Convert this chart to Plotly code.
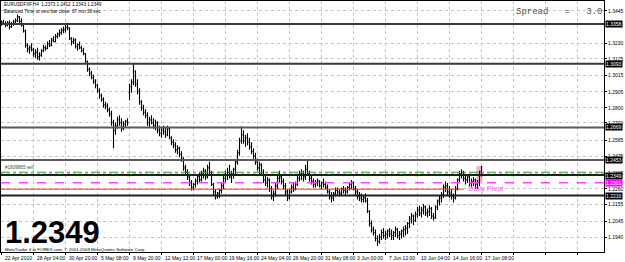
import plotly.graph_objects as go

# ---------------- data (prices in 1/10000) ----------------
bar_open = [13360,13370,13360,13350,13365,13340,13355,13370,13380,13405,13375,13350,13310,13215,13190,13200,13185,13160,13170,13140,
13150,13180,13200,13195,13225,13215,13250,13240,13275,13290,13300,13315,13320,13335,13330,13260,13240,13250,13210,13220,
13200,13180,13160,13110,13055,13030,13000,12975,12950,12915,12880,12855,12820,12810,12785,12760,12700,12650,12680,12720,
12700,12660,12690,12710,12900,12940,12970,13040,12960,12910,12840,12800,12770,12750,12700,12720,12700,12680,12700,12650,
12630,12650,12640,12620,12660,12600,12570,12550,12520,12530,12490,12460,12400,12370,12340,12300,12270,12290,12310,12340,
12320,12360,12380,12340,12400,12370,12290,12240,12210,12230,12250,12280,12330,12350,12370,12340,12360,12390,12440,12500,
12580,12620,12580,12600,12570,12540,12510,12480,12440,12400,12420,12370,12320,12300,12320,12260,12210,12230,12280,12330,
12340,12310,12280,12240,12200,12240,12270,12260,12290,12330,12360,12350,12340,12390,12360,12330,12310,12290,12300,12310,
12280,12300,12290,12270,12240,12210,12200,12230,12250,12240,12230,12260,12250,12240,12270,12290,12300,12260,12240,12210,
12200,12190,12200,12180,12110,12030,11990,11970,11930,11910,11940,11970,11950,11960,11980,11960,11950,11970,11990,11950,
11960,11980,11990,12000,12030,12060,12080,12050,12090,12120,12100,12120,12140,12100,12110,12130,12080,12070,12140,12180,
12200,12220,12270,12280,12240,12230,12210,12200,12260,12320,12360,12370,12330,12320,12340,12300,12310,12320,12290,12300,
12373]
bar_high = [13380,13385,13375,13378,13380,13370,13385,13395,13420,13410,13395,13360,13320,13230,13215,13230,13200,13190,13200,13170,
13190,13220,13215,13240,13250,13265,13275,13290,13300,13320,13330,13340,13350,13365,13335,13270,13265,13260,13230,13240,
13215,13200,13165,13115,13070,13045,13020,12990,12960,12930,12895,12870,12840,12830,12800,12780,12720,12700,12740,12750,
12730,12710,12720,12730,12960,12990,13090,13050,12990,12930,12850,12820,12790,12770,12740,12750,12730,12720,12710,12680,
12670,12680,12670,12680,12670,12610,12590,12570,12550,12540,12510,12470,12420,12390,12350,12320,12300,12330,12360,12370,
12380,12400,12390,12420,12440,12380,12300,12260,12240,12260,12300,12350,12380,12400,12420,12380,12400,12450,12520,12600,
12675,12650,12620,12630,12600,12570,12530,12500,12460,12440,12430,12390,12350,12340,12330,12280,12250,12300,12350,12380,
12360,12330,12300,12260,12260,12290,12300,12310,12350,12380,12390,12380,12420,12450,12380,12360,12330,12320,12330,12320,
12310,12330,12310,12290,12260,12240,12240,12270,12270,12260,12270,12280,12270,12280,12300,12320,12310,12280,12260,12240,
12230,12220,12230,12200,12120,12050,12010,11990,11950,11960,11990,12000,11980,11990,12000,11990,11980,12010,12000,11980,
11990,12010,12020,12040,12080,12100,12090,12110,12140,12150,12140,12160,12150,12130,12150,12140,12100,12150,12190,12220,
12240,12290,12310,12300,12280,12260,12230,12280,12330,12380,12390,12380,12350,12360,12350,12330,12340,12330,12320,12380,
12412]
bar_low = [13345,13350,13335,13340,13320,13330,13345,13355,13370,13360,13340,13300,13200,13170,13160,13175,13140,13130,13120,13115,
13140,13170,13180,13190,13205,13210,13235,13235,13260,13270,13285,13295,13300,13315,13250,13215,13225,13195,13180,13190,
13170,13150,13100,13040,13010,12990,12960,12930,12900,12860,12840,12800,12790,12770,12740,12680,12530,12620,12660,12680,
12640,12650,12670,12680,12850,12900,12950,12940,12890,12820,12780,12750,12730,12680,12670,12690,12660,12650,12630,12610,
12600,12620,12600,12610,12590,12550,12530,12500,12490,12470,12440,12380,12350,12320,12280,12250,12250,12270,12290,12300,
12310,12330,12320,12330,12360,12280,12220,12190,12195,12200,12230,12260,12300,12320,12330,12300,12330,12360,12420,12480,
12560,12560,12540,12550,12520,12490,12460,12420,12380,12360,12350,12300,12280,12270,12240,12190,12180,12210,12260,12300,
12290,12260,12220,12180,12190,12230,12240,12250,12280,12310,12320,12310,12320,12350,12310,12290,12270,12270,12280,12270,
12260,12270,12260,12230,12190,12170,12180,12210,12220,12210,12220,12230,12220,12230,12250,12260,12250,12220,12190,12180,
12170,12170,12170,12100,12010,11970,11950,11910,11880,11895,11920,11930,11920,11930,11940,11920,11920,11940,11930,11920,
11930,11940,11950,11960,12000,12030,12020,12040,12070,12080,12070,12090,12080,12070,12080,12060,12050,12060,12120,12150,
12170,12200,12240,12220,12200,12190,12170,12190,12250,12300,12330,12310,12290,12300,12280,12270,12280,12260,12260,12280,
12343]
bar_close = [13370,13360,13350,13365,13340,13355,13370,13380,13405,13375,13350,13310,13215,13190,13200,13185,13160,13170,13140,13150,
13180,13200,13195,13225,13215,13250,13240,13275,13290,13300,13315,13320,13335,13330,13260,13240,13250,13210,13220,13200,
13180,13160,13110,13055,13030,13000,12975,12950,12915,12880,12855,12820,12810,12785,12760,12700,12650,12680,12720,12700,
12660,12690,12710,12700,12940,12970,13040,12960,12910,12840,12800,12770,12750,12700,12720,12700,12680,12700,12650,12630,
12650,12640,12620,12660,12600,12570,12550,12520,12530,12490,12460,12400,12370,12340,12300,12270,12290,12310,12340,12320,
12360,12380,12340,12400,12370,12290,12240,12210,12230,12250,12280,12330,12350,12370,12340,12360,12390,12440,12500,12580,
12620,12580,12600,12570,12540,12510,12480,12440,12400,12420,12370,12320,12300,12320,12260,12210,12230,12280,12330,12340,
12310,12280,12240,12200,12240,12270,12260,12290,12330,12360,12350,12340,12390,12360,12330,12310,12290,12300,12310,12280,
12300,12290,12270,12240,12210,12200,12230,12250,12240,12230,12260,12250,12240,12270,12290,12300,12260,12240,12210,12200,
12190,12200,12180,12110,12030,11990,11970,11930,11910,11940,11970,11950,11960,11980,11960,11950,11970,11990,11950,11960,
11980,11990,12000,12030,12060,12080,12050,12090,12120,12100,12120,12140,12100,12110,12130,12080,12070,12140,12180,12200,
12220,12270,12280,12240,12230,12210,12200,12260,12320,12360,12370,12330,12320,12340,12300,12310,12320,12290,12300,12373,
12349]

time_labels = ["22 Apr 2010", "28 Apr 04:00", "30 Apr 20:00", "5 May 08:00", "9 May 20:00", "12 May 12:00",
               "17 May 00:00", "19 May 16:00", "24 May 04:00", "26 May 20:00", "31 May 08:00", "3 Jun 00:00",
               "7 Jun 12:00", "10 Jun 04:00", "14 Jun 16:00", "17 Jun 08:00"]
label_step = 16  # bars between time labels

price_ticks = [1.3445, 1.3230, 1.3125, 1.3015, 1.2905, 1.2800, 1.2700, 1.2585,
               1.2475, 1.2365, 1.2260, 1.2155, 1.2045, 1.1940, 1.1835]

sr_levels = [1.3358, 1.3093, 1.2669, 1.2453, 1.2352, 1.2216]
sr_colors = ["#3a3a3a", "#3a3a3a", "#5a5a5a", "#5a5a5a", "#202020", "#202020"]
sell_order_price = 1.2371
pivot_price = 1.2301
red_level = 1.2258
bid_price = 1.2349

symbol = "EURUSDFXF,H4"
spread = 3.0

# ---------------- geometry ----------------
W, H = 625, 262
ML, MR, MT, MB = 1, 21, 1, 10
PW = W - ML - MR
PH = H - MT - MB
Y_TOP, Y_BOT = 1.35103, 1.18402


def pxx(px):
    return (px - ML) / PW


def pxy(py):
    return (H - MB - py) / PH


scale = 10000.0
o = [v / scale for v in bar_open]
h = [v / scale for v in bar_high]
l = [v / scale for v in bar_low]
c = [v / scale for v in bar_close]
n = len(c)
xs = list(range(n))

fig = go.Figure()
fig.add_trace(go.Ohlc(
    x=xs, open=o, high=h, low=l, close=c,
    increasing=dict(line=dict(color="#000000", width=1.1)),
    decreasing=dict(line=dict(color="#000000", width=1.1)),
    tickwidth=0.45, hoverinfo="skip", showlegend=False,
))

FONT = "Liberation Sans, Arial, sans-serif"
shapes = []
# pink highlight behind current bar
shapes.append(dict(type="rect", xref="x", yref="y", x0=xs[-1] - 2.5, x1=xs[-1] + 0.5,
                   y0=pivot_price, y1=h[-1], fillcolor="rgba(240,150,175,0.75)",
                   line=dict(width=0), layer="below"))
for lv, col in zip(sr_levels, sr_colors):
    shapes.append(dict(type="line", xref="paper", yref="y", x0=0, x1=1, y0=lv, y1=lv,
                       line=dict(color=col, width=2)))
shapes.append(dict(type="line", xref="paper", yref="y", x0=0, x1=1, y0=sell_order_price,
                   y1=sell_order_price, line=dict(color="#2e9a2e", width=1, dash="dashdot")))
shapes.append(dict(type="line", xref="paper", yref="y", x0=0, x1=1, y0=pivot_price,
                   y1=pivot_price, line=dict(color="#ff44ff", width=1.3, dash="dash")))
shapes.append(dict(type="line", xref="x", yref="y", x0=-1, x1=xs[-10], y0=red_level,
                   y1=red_level, line=dict(color="#ff3030", width=1)))

ann = []
# time labels
for k, t in enumerate(time_labels):
    ann.append(dict(x=k * label_step, y=0, xref="x", yref="paper", text=t, showarrow=False,
                    xanchor="left", yanchor="top", xshift=1, yshift=-1,
                    font=dict(family=FONT, size=5, color="#000000")))
# highlighted price labels
for lv in sr_levels[:4] + [sr_levels[5]]:
    ann.append(dict(x=1, y=lv, xref="paper", yref="y", text=f"{lv:.4f}", showarrow=False,
                    xanchor="left", yanchor="middle", xshift=1, bgcolor="#000000", borderpad=0,
                    font=dict(family=FONT, size=5, color="#ffffff")))
ann.append(dict(x=1, y=bid_price, xref="paper", yref="y", text=f"{bid_price:.4f}", showarrow=False,
                xanchor="left", yanchor="middle", xshift=1, bgcolor="#000000", borderpad=0,
                font=dict(family=FONT, size=5, color="#ffffff")))
ann.append(dict(x=1, y=pivot_price, xref="paper", yref="y", text=f"{pivot_price:.4f}", showarrow=False,
                xanchor="left", yanchor="middle", xshift=1, bgcolor="#ff00ff", borderpad=0,
                font=dict(family=FONT, size=5, color="#ffffff")))
# header texts
ann.append(dict(x=pxx(2), y=pxy(5), xref="paper", yref="paper", showarrow=False, xanchor="left",
                yanchor="middle", text=f"{symbol}  {o[-1]:.4f} {h[-1]:.4f} {l[-1]:.4f} {c[-1]:.4f}",
                font=dict(family=FONT, size=4.6, color="#000000")))
ann.append(dict(x=pxx(2), y=pxy(12), xref="paper", yref="paper", showarrow=False, xanchor="left",
                yanchor="middle", text="Balanced Time to next bar close: 67 min 36 sec",
                font=dict(family=FONT, size=4.6, color="#000000")))
ann.append(dict(x=pxx(514), y=pxy(12), xref="paper", yref="paper", showarrow=False, xanchor="left",
                yanchor="middle", text=f"Spread&nbsp;&nbsp;&nbsp;=&nbsp;&nbsp;&nbsp;{spread:.1f}",
                font=dict(family="Liberation Mono, Courier New, monospace", size=9, color="#505050")))
ann.append(dict(x=pxx(3), y=sell_order_price, xref="paper", yref="y", showarrow=False, xanchor="left",
                yanchor="bottom", yshift=0, text="#1809865 sell",
                font=dict(family=FONT, size=4.6, color="#3c503c")))
ann.append(dict(x=xs[-9], y=pivot_price, xref="x", yref="y", showarrow=False, xanchor="left",
                yanchor="top", yshift=1, text="Daily Pivot",
                font=dict(family=FONT, size=7.5, color="#f060e0")))
# big price
ann.append(dict(x=pxx(3), y=pxy(232), xref="paper", yref="paper", showarrow=False, xanchor="left",
                yanchor="middle", text=f"<b>{c[-1]:.4f}</b>",
                font=dict(family=FONT, size=31, color="#000000")))
ann.append(dict(x=pxx(3), y=pxy(249), xref="paper", yref="paper", showarrow=False, xanchor="left",
                yanchor="middle", text="MetaTrader 4 at FOREX.com, © 2001-2009 MetaQuotes Software Corp.",
                font=dict(family=FONT, size=4.4, color="#000000")))

fig.update_layout(
    width=W, height=H, margin=dict(l=ML, r=MR, t=MT, b=MB),
    paper_bgcolor="#ffffff", plot_bgcolor="#ffffff",
    shapes=shapes, annotations=ann, showlegend=False,
    xaxis=dict(range=[-0.25, 301.25], rangeslider=dict(visible=False),
               tickvals=list(range(0, 301, label_step)), showticklabels=False,
               ticks="outside", ticklen=2, tickcolor="#000000",
               showgrid=True, gridcolor="#c4c4c4", griddash="dot", gridwidth=1,
               showline=True, linecolor="#000000", linewidth=1, mirror=True, zeroline=False),
    yaxis=dict(range=[Y_BOT, Y_TOP], side="right", tickvals=price_ticks,
               ticktext=[f"{v:.4f}" for v in price_ticks],
               ticks="outside", ticklen=2, tickcolor="#000000",
               tickfont=dict(family=FONT, size=5, color="#000000"),
               showgrid=True, gridcolor="#c4c4c4", griddash="dot", gridwidth=1,
               showline=True, linecolor="#000000", linewidth=1, mirror=True, zeroline=False),
)

fig.write_html("out.html")
